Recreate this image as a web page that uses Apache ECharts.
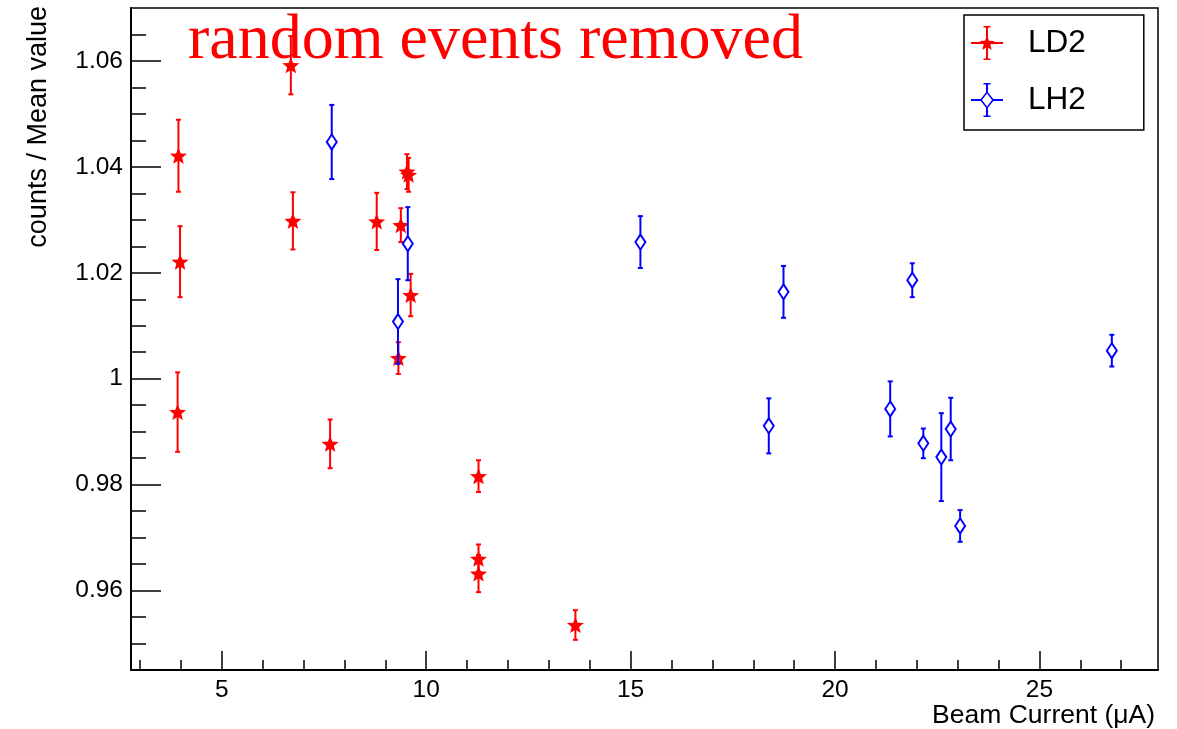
<!DOCTYPE html>
<html>
<head>
<meta charset="utf-8">
<title>random events removed</title>
<script src="https://cdn.jsdelivr.net/npm/echarts@6/dist/echarts.min.js"></script>
<style>
  html, body { margin: 0; padding: 0; background: #fff; }
  #main { width: 1177px; height: 729px; }
</style>
</head>
<body>
<div id="main"></div>
<script>
// LD2 points (beam current, counts / mean, error)
const ld2X   = [3.94, 3.98, 3.92, 6.69, 6.74, 8.79, 9.38, 9.53, 9.57, 9.62, 9.32, 7.65, 11.28, 11.28, 11.28, 13.65];
const ld2Y   = [1.0421, 1.0221, 0.9937, 1.0592, 1.0298, 1.0297, 1.0290, 1.0391, 1.0385, 1.0158, 1.0039, 0.9877, 0.9816, 0.9660, 0.9632, 0.9535];
const ld2Err = [0.0068, 0.0067, 0.0075, 0.0055, 0.0054, 0.0054, 0.0032, 0.0033, 0.0032, 0.0040, 0.0030, 0.0046, 0.0030, 0.0027, 0.0035, 0.0028];

// LH2 points
const lh2X   = [7.69, 9.55, 9.31, 15.24, 18.74, 21.89, 26.77, 18.38, 21.35, 22.16, 22.60, 22.83, 23.06];
const lh2Y   = [1.0447, 1.0255, 1.0108, 1.0258, 1.0164, 1.0186, 1.0053, 0.9911, 0.9943, 0.9878, 0.9852, 0.9905, 0.9722];
const lh2Err = [0.0070, 0.0069, 0.0080, 0.0049, 0.0049, 0.0032, 0.0030, 0.0052, 0.0052, 0.0028, 0.0083, 0.0059, 0.0030];

// axes
const xMin = 2.78, xMax = 27.9;
const yMin = 0.945, yMax = 1.07;
const xMajorTicks = [5, 10, 15, 20, 25];
const xMinorTicks = [3, 4, 6, 7, 8, 9, 11, 12, 13, 14, 16, 17, 18, 19, 21, 22, 23, 24, 26, 27];
const yMajorTicks = [0.96, 0.98, 1, 1.02, 1.04, 1.06];
const yTickLabels = ['0.96', '0.98', '1', '1.02', '1.04', '1.06'];
const yMinorTicks = [0.95, 0.955, 0.965, 0.97, 0.975, 0.985, 0.99, 0.995, 1.005, 1.01, 1.015,
                     1.025, 1.03, 1.035, 1.045, 1.05, 1.055, 1.065];

const RED = '#ff0000';
const BLUE = '#0000ff';
const FONT = '"Liberation Sans", Arial, Helvetica, sans-serif';

function starPath(cx, cy, R, r) {
  let d = '';
  for (let k = 0; k < 10; k++) {
    const a = (-90 + k * 36) * Math.PI / 180;
    const rr = k % 2 === 0 ? R : r;
    d += (k === 0 ? 'M' : 'L') + (cx + rr * Math.cos(a)).toFixed(2) + ' ' + (cy + rr * Math.sin(a)).toFixed(2) + ' ';
  }
  return d + 'Z';
}

// legend icons, 32 x 34 box
const ld2Icon = 'path://' +
  'M15 0 L17 0 L17 34 L15 34 Z ' +
  'M12.5 0 L19.5 0 L19.5 1.6 L12.5 1.6 Z ' +
  'M12.5 32.4 L19.5 32.4 L19.5 34 L12.5 34 Z ' +
  'M0 16 L32 16 L32 18 L0 18 Z ' +
  starPath(16, 17.5, 8, 3.5);
const lh2Icon = 'path://' +
  'M15 0 L17 0 L17 9 L15 9 Z ' +
  'M15 25 L17 25 L17 34 L15 34 Z ' +
  'M12.5 0 L19.5 0 L19.5 1.6 L12.5 1.6 Z ' +
  'M12.5 32.4 L19.5 32.4 L19.5 34 L12.5 34 Z ' +
  'M0 16 L10 16 L10 18 L0 18 Z ' +
  'M22 16 L32 16 L32 18 L22 18 Z ' +
  'M16 8 L23 17 L16 26 L9 17 Z ' +
  'M16 10.6 L11 17 L16 23.4 L21 17 Z';

function errorBars(color, width) {
  return function (params, api) {
    const x = api.value(0), y = api.value(1), e = api.value(2);
    const lo = api.coord([x, y - e]);
    const hi = api.coord([x, y + e]);
    const c = 2.5;
    const st = { stroke: color, lineWidth: width };
    return {
      type: 'group',
      children: [
        { type: 'line', shape: { x1: lo[0], y1: lo[1], x2: hi[0], y2: hi[1] }, style: st },
        { type: 'line', shape: { x1: lo[0] - c, y1: lo[1], x2: lo[0] + c, y2: lo[1] }, style: st },
        { type: 'line', shape: { x1: hi[0] - c, y1: hi[1], x2: hi[0] + c, y2: hi[1] }, style: st }
      ]
    };
  };
}

const ld2Data = ld2X.map((x, i) => [x, ld2Y[i], ld2Err[i]]);
const lh2Data = lh2X.map((x, i) => [x, lh2Y[i], lh2Err[i]]);

const chart = echarts.init(document.getElementById('main'));

const option = {
  animation: false,
  backgroundColor: '#fff',
  title: {
    text: 'random events removed',
    left: 188,
    top: 9,
    padding: 0,
    textStyle: { fontFamily: '"Liberation Serif", "Times New Roman", serif', fontSize: 64, fontWeight: 'normal', color: RED }
  },
  legend: {
    orient: 'vertical',
    left: 964,
    top: 15,
    padding: [11, 58, 13, 7],
    itemWidth: 32,
    itemHeight: 34,
    itemGap: 23,
    borderColor: '#000',
    borderWidth: 1.5,
    backgroundColor: '#fff',
    selectedMode: false,
    textStyle: { fontFamily: FONT, fontSize: 31.5, color: '#000', padding: [0, 0, 0, 20] },
    data: [
      { name: 'LD2', icon: ld2Icon, itemStyle: { color: RED, borderWidth: 0 } },
      { name: 'LH2', icon: lh2Icon, itemStyle: { color: BLUE, borderWidth: 0 } }
    ]
  },
  grid: {
    left: 131, right: 19, top: 8, bottom: 59,
    show: true, borderColor: '#000', borderWidth: 1.5, backgroundColor: 'transparent'
  },
  xAxis: [{
    type: 'value', min: xMin, max: xMax, position: 'bottom',
    axisLine: { show: true, onZero: false, lineStyle: { color: '#000', width: 2 } },
    axisTick: { show: true, inside: true, length: 19, customValues: xMajorTicks, lineStyle: { color: '#000', width: 1.5 } },
    axisLabel: { show: true, customValues: xMajorTicks, margin: 8, fontFamily: FONT, fontSize: 24.5, color: '#000' },
    splitLine: { show: false },
    name: 'Beam Current (\u03bcA)',
    nameLocation: 'end',
    nameGap: -3,
    nameMoveOverlap: false,
    nameTextStyle: { fontFamily: FONT, fontSize: 26.5, color: '#000', align: 'right', verticalAlign: 'top', padding: [32, 0, 0, 0] }
  }, {
    type: 'value', min: xMin, max: xMax, position: 'bottom',
    axisLine: { show: false },
    axisTick: { show: true, inside: true, length: 10, customValues: xMinorTicks, lineStyle: { color: '#000', width: 1.5 } },
    axisLabel: { show: false },
    splitLine: { show: false }
  }],
  yAxis: [{
    type: 'value', min: yMin, max: yMax, position: 'left',
    axisLine: { show: true, onZero: false, lineStyle: { color: '#000', width: 2 } },
    axisTick: { show: true, inside: true, length: 30, customValues: yMajorTicks, lineStyle: { color: '#000', width: 1.5 } },
    axisLabel: {
      show: true, customValues: yMajorTicks, margin: 8, fontFamily: FONT, fontSize: 24.5, color: '#000',
      formatter: function (v) {
        const i = yMajorTicks.findIndex(t => Math.abs(t - v) < 1e-9);
        return i >= 0 ? yTickLabels[i] : '';
      }
    },
    splitLine: { show: false },
    name: 'counts / Mean value',
    nameLocation: 'end',
    nameRotate: 90,
    nameGap: 2,
    nameMoveOverlap: false,
    nameTextStyle: { fontFamily: FONT, fontSize: 27, color: '#000', align: 'right', verticalAlign: 'bottom', padding: [0, 0, 79, 0] }
  }, {
    type: 'value', min: yMin, max: yMax, position: 'left',
    axisLine: { show: false },
    axisTick: { show: true, inside: true, length: 15, customValues: yMinorTicks, lineStyle: { color: '#000', width: 1.5 } },
    axisLabel: { show: false },
    splitLine: { show: false }
  }],
  series: [
    {
      name: 'LD2', type: 'custom', z: 2,
      renderItem: errorBars(RED, 2),
      encode: { x: 0, y: 1 },
      data: ld2Data
    },
    {
      name: 'LD2', type: 'scatter', z: 3,
      symbol: 'path://' + starPath(0, 0, 8, 3.5),
      symbolSize: [17, 16],
      itemStyle: { color: RED, opacity: 1 },
      data: ld2Data
    },
    {
      name: 'LH2', type: 'custom', z: 4,
      renderItem: errorBars(BLUE, 2),
      encode: { x: 0, y: 1 },
      data: lh2Data
    },
    {
      name: 'LH2', type: 'scatter', z: 5,
      symbol: 'diamond',
      symbolSize: [10, 15],
      itemStyle: { color: '#fff', borderColor: BLUE, borderWidth: 2, opacity: 1 },
      data: lh2Data
    }
  ]
};

chart.setOption(option);
</script>
</body>
</html>
